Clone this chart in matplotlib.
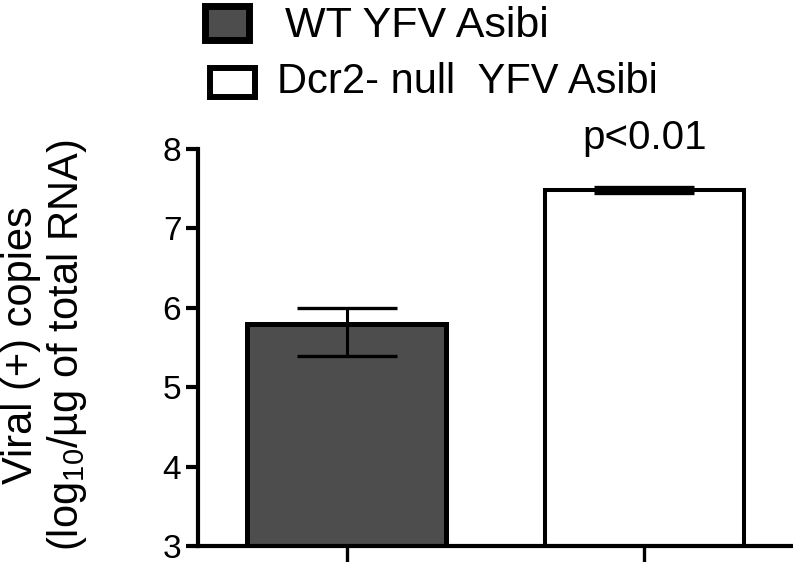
import matplotlib
matplotlib.use("Agg")
import matplotlib.pyplot as plt
from matplotlib.patches import Rectangle

plt.rcParams['font.family'] = ['Liberation Sans', 'DejaVu Sans']
plt.rcParams['mathtext.fontset'] = 'custom'
plt.rcParams['mathtext.rm'] = 'Liberation Sans'
plt.rcParams['mathtext.it'] = 'Liberation Sans:italic'
plt.rcParams['mathtext.default'] = 'regular'

# ---- data ----
groups = ["WT YFV Asibi", "Dcr2- null  YFV Asibi"]
means = [5.80, 7.48]
err_low = [0.41, 0.04]
err_high = [0.20, 0.04]
fills = ["#4d4d4d", "#ffffff"]
yticks = [3, 4, 5, 6, 7, 8]
ylabel = "Viral (+) copies\n(log$_{10}$/µg of total RNA)"
ptext = "p<0.01"

W, H = 793, 562
fig = plt.figure(figsize=(W / 100, H / 100), dpi=100)

def fx(x):
    return x / W

def fy(y):
    return 1 - y / H

ax = fig.add_axes([fx(198), fy(546), fx(793) - fx(198), fy(149) - fy(546)])

xs = list(range(len(means)))
edge_w = [3.6, 2.9]
for i, (x, m) in enumerate(zip(xs, means)):
    ax.bar(x, m - 3, bottom=3, width=0.67, color=fills[i], edgecolor="black",
           linewidth=edge_w[i], zorder=2)
ax.errorbar(xs, means, yerr=[err_low, err_high], fmt="none", ecolor="black",
            elinewidth=2.2, capsize=36, capthick=2.4, zorder=3)

ax.set_xlim(-0.5, 1.5)
ax.set_ylim(3, 8)
ax.set_yticks(yticks)
ax.set_yticklabels([str(t) for t in yticks], fontsize=24)
ax.set_xticks(xs)
ax.set_xticklabels(["", ""])
for s in ["top", "right"]:
    ax.spines[s].set_visible(False)
for s in ["left", "bottom"]:
    ax.spines[s].set_linewidth(3.0)
ax.tick_params(axis="y", direction="out", length=9, width=3.0, pad=3)
ax.tick_params(axis="x", direction="out", length=12, width=2.4)

ax.text(xs[1], 8.0, ptext, ha="center", va="baseline", fontsize=29,
        clip_on=False)

fig.text(fx(45), fy(345), ylabel, rotation=90, ha="center", va="center",
         fontsize=30, linespacing=1.1, multialignment="center")

# legend drawn manually
fig.patches.append(Rectangle((fx(205.5), fy(39.5)), fx(249.5) - fx(205.5),
                             fy(5.5) - fy(39.5), transform=fig.transFigure,
                             facecolor=fills[0], edgecolor="black", linewidth=5))
fig.patches.append(Rectangle((fx(210), fy(97)), fx(255) - fx(210),
                             fy(68) - fy(97), transform=fig.transFigure,
                             facecolor=fills[1], edgecolor="black", linewidth=4.3))
fig.text(fx(285), fy(37), groups[0], ha="left", va="baseline", fontsize=31)
fig.text(fx(277), fy(93), groups[1], ha="left", va="baseline", fontsize=30)

fig.savefig("out.png", dpi=100)
